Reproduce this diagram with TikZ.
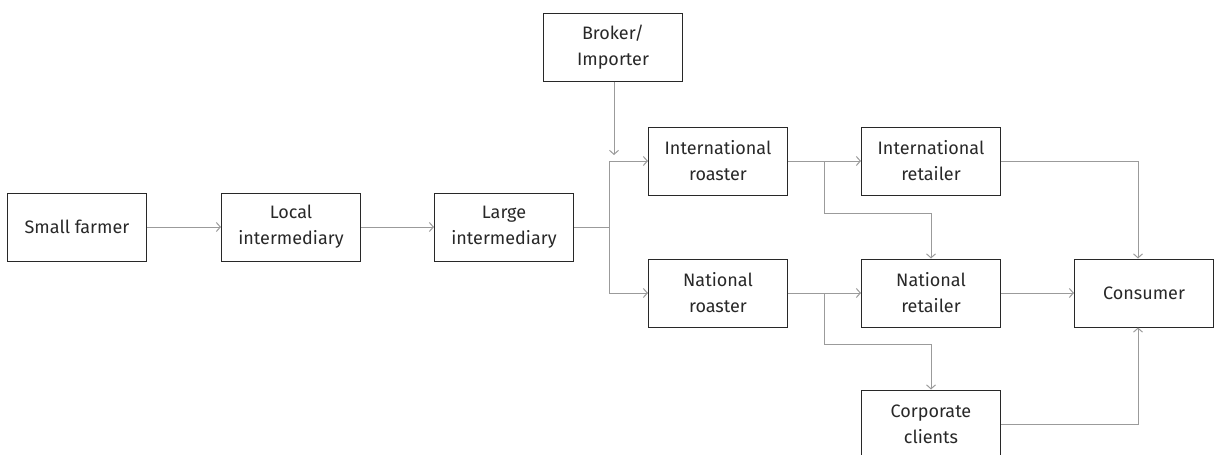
\documentclass[tikz,border=0pt]{standalone}
\usepackage{fontspec}
\setmainfont{Fira Sans}
\usepackage{tikz}
\usetikzlibrary{arrows.meta}
\definecolor{LineGray}{RGB}{155,155,155}
\definecolor{BoxBlack}{RGB}{40,40,40}

\begin{document}
\begin{tikzpicture}[x=1pt, y=-1pt,
		stage/.style={draw=BoxBlack, line width=1pt, minimum width=139pt, minimum height=68pt,
			inner sep=0pt, align=center, text=BoxBlack, font=\fontsize{18}{26}\selectfont},
		flow/.style={LineGray, line width=1pt, -{Straight Barb[length=4pt, width=9pt]}}]
		\clip (0,0) rectangle (1218,455);
		% chain of sellers
		\node[stage] (farmer) at (77,227) {Small farmer};
		\node[stage] (localint) at (291,227) {Local\\intermediary};
		\node[stage] (largeint) at (504,227) {Large\\intermediary};
		\node[stage] (broker) at (613,47) {Broker/\\Importer};
		\node[stage] (introast) at (718,161) {International\\roaster};
		\node[stage] (natroast) at (718,293) {National\\roaster};
		\node[stage] (intretail) at (931,161) {International\\retailer};
		\node[stage] (natretail) at (931,293) {National\\retailer};
		\node[stage] (corporate) at (931,424) {Corporate\\clients};
		\node[stage] (consumer) at (1144,293) {Consumer};
		
		\coordinate (split) at (609,227);
		\coordinate (brokerend) at (614,155);
		\coordinate (intsplit) at (824,161);
		\coordinate (intbend) at (824,213);
		\coordinate (natsplit) at (824,293);
		\coordinate (natbend) at (824,344);
		\coordinate (intcorner) at (1138,161);
		\coordinate (corpcorner) at (1138,424);
		
		\draw[flow] (farmer) -- (localint);
		\draw[flow] (localint) -- (largeint);
		\draw[LineGray, line width=1pt] (largeint) -- (split);
		\draw[flow] (split) |- (introast.west);
		\draw[flow] (split) |- (natroast.west);
		\draw[flow] (broker.south -| brokerend) -- (brokerend);
		
		\draw[flow] (introast) -- (intretail);
		\draw[flow] (intsplit) -- (intbend) -| (natretail.north);
		\draw[flow] (natroast) -- (natretail);
		\draw[flow] (natsplit) -- (natbend) -| (corporate.north);
		
		\draw[flow] (intretail.east) -- (intcorner) -- (intcorner |- consumer.north);
		\draw[flow] (natretail) -- (consumer);
		\draw[flow] (corporate.east) -- (corpcorner) -- (corpcorner |- consumer.south);
\end{tikzpicture}
\end{document}
